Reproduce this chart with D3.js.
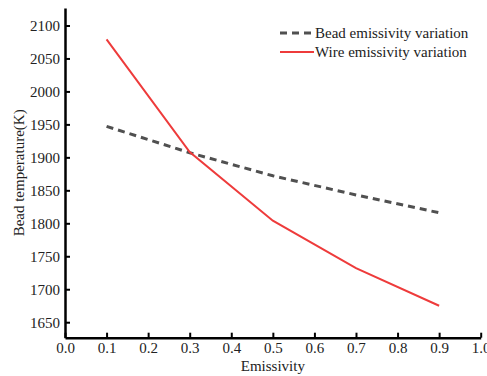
<!DOCTYPE html>
<html><head><meta charset="utf-8">
<script src="https://cdn.jsdelivr.net/npm/d3@7"></script>
<style>
body{margin:0;background:#fff;}
svg{display:block;}
svg text{font-family:"Liberation Serif","Times New Roman",serif;}
</style></head>
<body><svg id="c" width="487" height="376"></svg>
<script>
const emissivity = [0.1, 0.3, 0.5, 0.7, 0.9];
const beadSeries = [1947, 1907, 1872, 1843, 1816];
const wireSeries = [2079, 1908, 1804, 1732, 1675];
const seriesNames = ["Bead emissivity variation", "Wire emissivity variation"];
const xTicks = [0.0,0.1,0.2,0.3,0.4,0.5,0.6,0.7,0.8,0.9,1.0];
const yTicks = [1650,1700,1750,1800,1850,1900,1950,2000,2050,2100];

const svg = d3.select("#c");
const L = 65, R = 480.7, T = 8, B = 337.7;
const x = d3.scaleLinear().domain([0,1]).range([L,R]);
const y = d3.scaleLinear().domain([1626.5,2126.5]).range([B,T]);
const FONT = "'Liberation Serif','Times New Roman',serif";

const xa = svg.append("g").attr("transform",`translate(0,${B})`)
  .call(d3.axisBottom(x).tickValues(xTicks).tickFormat(d3.format(".1f")).tickSizeInner(-5).tickSizeOuter(0).tickPadding(5));
const ya = svg.append("g").attr("transform",`translate(${L},0)`)
  .call(d3.axisLeft(y).tickValues(yTicks).tickFormat(d3.format("d")).tickSizeInner(-5).tickSizeOuter(0).tickPadding(5));
[xa,ya].forEach(a=>{
  a.attr("font-family",FONT).attr("font-size",15);
  a.select(".domain").attr("stroke","#000").attr("stroke-width",2.5);
  a.selectAll(".tick line").attr("stroke","#000").attr("stroke-width",2);
  a.selectAll(".tick text").attr("fill","#222");
});

const line = d3.line().x((d,i)=>x(emissivity[i])).y(d=>y(d));
svg.append("path").datum(beadSeries).attr("d",line).attr("fill","none")
  .attr("stroke","#505050").attr("stroke-width",3).attr("stroke-dasharray","7,5");
svg.append("path").datum(wireSeries).attr("d",line).attr("fill","none")
  .attr("stroke","#ee3b3b").attr("stroke-width",2);

// legend
const lg = svg.append("g").attr("font-family",FONT).attr("font-size",15).attr("fill","#222");
lg.append("line").attr("x1",280).attr("x2",313).attr("y1",33).attr("y2",33)
  .attr("stroke","#505050").attr("stroke-width",3).attr("stroke-dasharray","7,5");
lg.append("line").attr("x1",280).attr("x2",314).attr("y1",52).attr("y2",52)
  .attr("stroke","#ee3b3b").attr("stroke-width",2);
lg.append("text").attr("x",315).attr("y",38).text(seriesNames[0]);
lg.append("text").attr("x",315).attr("y",57).text(seriesNames[1]);

svg.append("text").attr("x",x(0.5)).attr("y",371).attr("text-anchor","middle")
  .attr("font-family",FONT).attr("font-size",15).attr("fill","#222").text("Emissivity");
svg.append("text").attr("transform",`translate(24,${(T+B)/2}) rotate(-90)`).attr("text-anchor","middle")
  .attr("font-family",FONT).attr("font-size",15).attr("fill","#222").text("Bead temperature(K)");
</script></body></html>
